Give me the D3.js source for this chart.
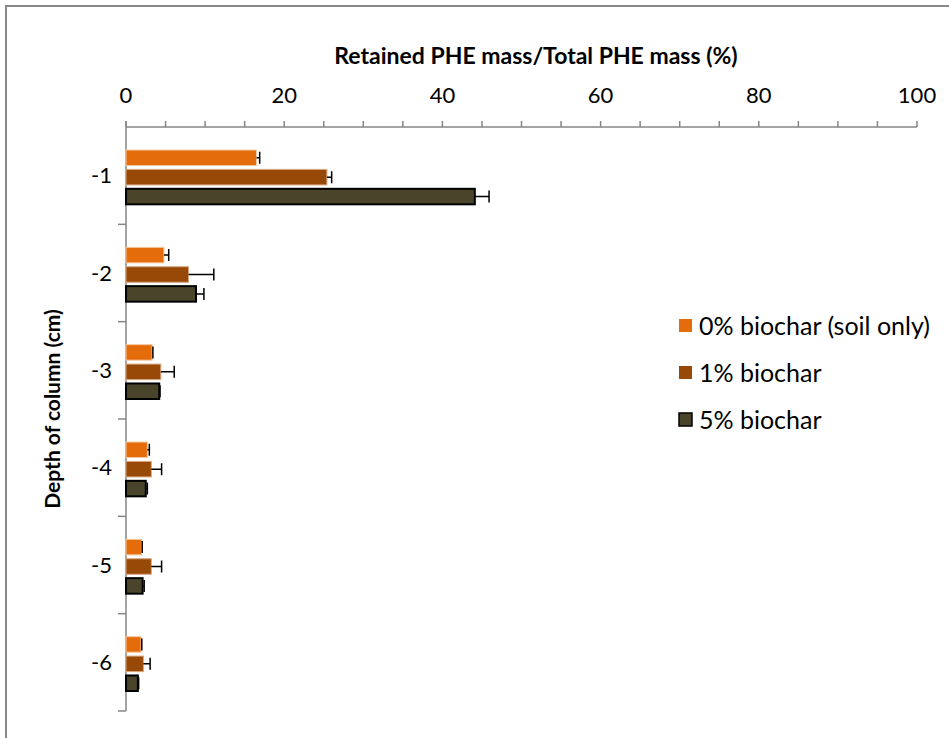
<!DOCTYPE html>
<html>
<head>
<meta charset="utf-8">
<script src="https://cdn.jsdelivr.net/npm/d3@7"></script>
<style>
  body { margin: 0; background: #fff; }
  svg { display: block; font-family: Lato, "Open Sans", sans-serif; }
</style>
</head>
<body>
<div id="chart"></div>
<script>
// Data
const depths = ["-1", "-2", "-3", "-4", "-5", "-6"];
const seriesNames = ["0% biochar (soil only)", "1% biochar", "5% biochar"];
const soilOnly = [16.5, 4.8, 3.3, 2.7, 1.95, 1.9];
const soilOnlyErr = [0.4, 0.6, 0.1, 0.25, 0.1, 0.1];
const biochar1 = [25.4, 7.9, 4.4, 3.2, 3.2, 2.2];
const biochar1Err = [0.6, 3.2, 1.7, 1.3, 1.3, 0.85];
const biochar5 = [44.1, 8.85, 4.2, 2.5, 2.1, 1.5];
const biochar5Err = [1.8, 1.0, 0.1, 0.2, 0.2, 0.1];
const xTicks = [0, 20, 40, 60, 80, 100];

const colors = ["#E46C0A", "#984807", "#4A452A"];
const strokes = ["#F6C9A3", "#D9A77F", "#000"];
const values = [soilOnly, biochar1, biochar5];
const errs = [soilOnlyErr, biochar1Err, biochar5Err];

const W = 949, H = 738;
const svg = d3.select("#chart").append("svg").attr("width", W).attr("height", H);

// outer frame (top + left visible)
svg.append("path")
  .attr("d", `M6,${H} V6 H${W}`)
  .attr("fill", "none")
  .attr("stroke", "#898989")
  .attr("stroke-width", 2);

const plot = { left: 126, right: 917, top: 127, bottom: 711 };

const x = d3.scaleLinear().domain([0, 100]).range([plot.left, plot.right]);
const y = d3.scaleBand().domain(depths).range([plot.top, plot.bottom]);

// x axis on top, minor ticks every 5
const xAxis = svg.append("g").attr("transform", `translate(0,${plot.top})`);
xAxis.append("line")
  .attr("x1", plot.left).attr("x2", plot.right)
  .attr("stroke", "#868686").attr("stroke-width", 1.5);
xAxis.selectAll(".tick")
  .data(d3.range(0, 101, 5))
  .enter().append("line")
  .attr("x1", d => x(d)).attr("x2", d => x(d))
  .attr("y1", 0).attr("y2", -6)
  .attr("stroke", "#868686").attr("stroke-width", 1.5);
xAxis.selectAll(".lbl")
  .data(xTicks)
  .enter().append("text")
  .attr("x", d => x(d)).attr("y", -24)
  .attr("text-anchor", "middle")
  .attr("font-size", 22)
  .attr("fill", "#000")
  .text(d => d);

svg.append("text")
  .attr("x", 536).attr("y", 64)
  .attr("text-anchor", "middle")
  .attr("font-size", 23).attr("font-weight", "bold")
  .text("Retained PHE mass/Total PHE mass (%)");

// y axis
const yAxis = svg.append("g");
yAxis.append("line")
  .attr("x1", plot.left).attr("x2", plot.left)
  .attr("y1", plot.top - 6).attr("y2", plot.bottom)
  .attr("stroke", "#868686").attr("stroke-width", 1.5);
yAxis.selectAll(".tick")
  .data(depths.slice(1).map(d => y(d)).concat([plot.bottom]))
  .enter().append("line")
  .attr("x1", plot.left - 8).attr("x2", plot.left)
  .attr("y1", d => d).attr("y2", d => d)
  .attr("stroke", "#868686").attr("stroke-width", 1.5);
yAxis.selectAll(".lbl")
  .data(depths)
  .enter().append("text")
  .attr("x", 112).attr("y", d => y(d) + y.bandwidth() / 2)
  .attr("dy", "0.35em")
  .attr("text-anchor", "end")
  .attr("font-size", 22)
  .text(d => d);

svg.append("text")
  .attr("transform", "translate(60,409) rotate(-90)")
  .attr("text-anchor", "middle")
  .attr("font-size", 21).attr("font-weight", "bold")
  .text("Depth of column (cm)");

// bars
const inner = d3.scaleBand().domain([0, 1, 2])
  .range([23, y.bandwidth() - 20]).paddingInner(0.2);

values.forEach((vals, s) => {
  const g = svg.append("g");
  g.selectAll("rect")
    .data(vals)
    .enter().append("rect")
    .attr("x", x(0))
    .attr("y", (d, i) => y(depths[i]) + inner(s))
    .attr("width", d => x(d) - x(0))
    .attr("height", inner.bandwidth())
    .attr("fill", colors[s])
    .attr("stroke", strokes[s])
    .attr("stroke-width", s === 2 ? 2 : 1);
  // error bars (plus direction)
  g.selectAll(".err")
    .data(vals)
    .enter().append("path")
    .attr("d", (d, i) => {
      const cy = y(depths[i]) + inner(s) + inner.bandwidth() / 2;
      const x0 = x(d), x1 = x(d + errs[s][i]);
      return `M${x0},${cy}H${x1}M${x1},${cy - 6}V${cy + 6}`;
    })
    .attr("fill", "none")
    .attr("stroke", "#000")
    .attr("stroke-width", 1.5);
});

// legend
const legend = svg.append("g");
seriesNames.forEach((name, s) => {
  const ly = 326 + s * 47;
  legend.append("rect")
    .attr("x", 679).attr("y", ly - 7)
    .attr("width", 13).attr("height", 13)
    .attr("fill", colors[s])
    .attr("stroke", s === 2 ? "#000" : "none")
    .attr("stroke-width", 1.5);
  legend.append("text")
    .attr("x", 699).attr("y", ly)
    .attr("dy", "0.35em")
    .attr("font-size", 25)
    .text(name);
});
</script>
</body>
</html>
